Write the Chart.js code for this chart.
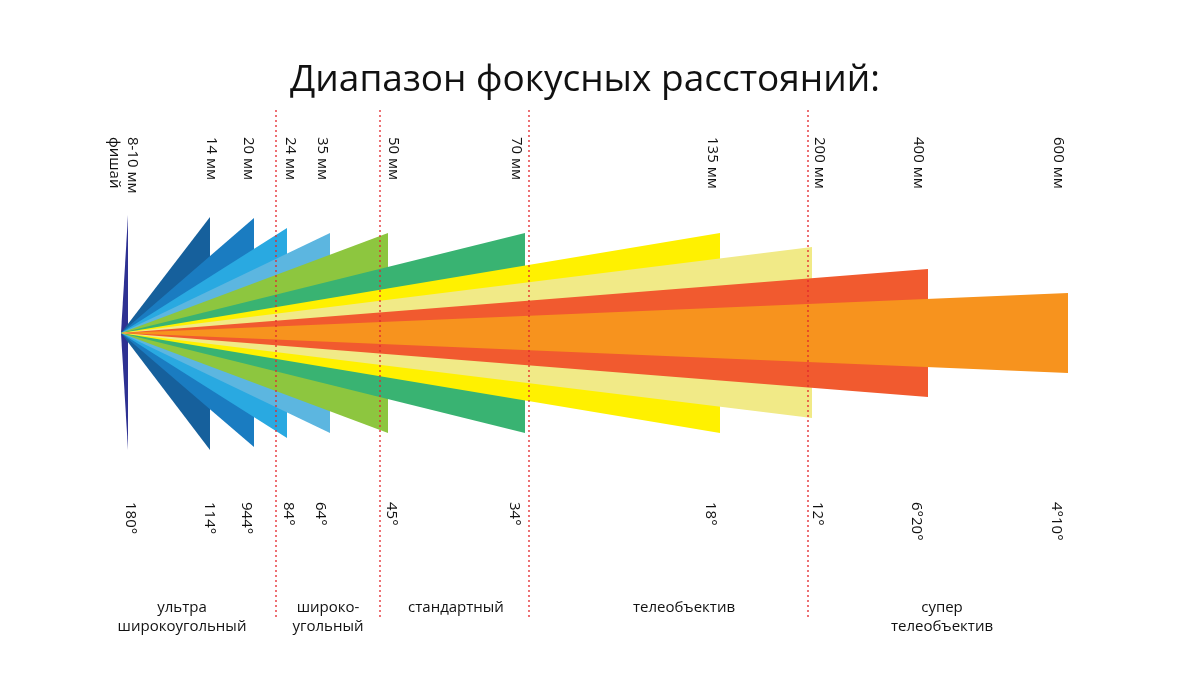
<!DOCTYPE html>
<html>
<head>
<meta charset="utf-8">
<script src="https://cdn.jsdelivr.net/npm/chart.js@4"></script>
<style>
  html, body { margin: 0; padding: 0; background: #fff; }
  #wrap { width: 1200px; height: 676px; }
</style>
</head>
<body>
<div id="wrap"><canvas id="c"></canvas></div>
<script>
// Фокусные расстояния и клинья (угол обзора)
const focalLabels = ['8-10 мм', '14 мм', '20 мм', '24 мм', '35 мм', '50 мм', '70 мм', '135 мм', '200 мм', '400 мм', '600 мм'];
const angleLabels = ['180°', '114°', '944°', '84°', '64°', '45°', '34°', '18°', '12°', '6°20°', '4°10°'];
const wedgeEnd    = [128, 210, 254, 287, 330, 388, 525, 720, 812, 928, 1068];
const wedgeTop    = [215, 217, 218, 228, 233, 233, 233, 233, 247, 269, 293];
const wedgeBottom = [450, 450, 447, 438, 433, 433, 433, 433, 418, 397, 373];
const labelX      = [132, 211, 248, 290, 322, 393, 516, 712, 819, 918, 1058];
const colors      = ['#2e3192', '#16609c', '#1a7cc1', '#29a9e1', '#5cb6e0', '#8dc63f', '#39b372', '#fff100', '#f1ea87', '#f15a2f', '#f7931e'];

const bandLines = [276, 380, 529, 808];
const bandNames = [['ультра', 'широкоугольный'], ['широко-', 'угольный'], ['стандартный'], ['телеобъектив'], ['супер', 'телеобъектив']];
const bandX     = [182, 328, 456, 684, 942];

const apex = { x: 121, y: 333 };

// Chart.js рисует первый датасет поверх остальных: начинаем с самого узкого клина
const datasets = [];
for (let i = focalLabels.length - 1; i >= 0; i--) {
  const top = [{ x: apex.x, y: apex.y }, { x: wedgeEnd[i], y: wedgeTop[i] }];
  const bot = [{ x: apex.x, y: apex.y }, { x: wedgeEnd[i], y: wedgeBottom[i] }];
  datasets.push({ data: top, borderWidth: 0, pointRadius: 0, backgroundColor: colors[i], fill: '+1', tension: 0 });
  datasets.push({ data: bot, borderWidth: 0, pointRadius: 0, backgroundColor: colors[i], fill: false, tension: 0 });
}

const textPlugin = {
  id: 'texts',
  afterDatasetsDraw(chart) {
    const { ctx, scales: { x, y } } = chart;
    ctx.save();
    // красные пунктирные границы
    ctx.strokeStyle = '#e3262b';
    ctx.lineWidth = 1.3;
    ctx.setLineDash([2, 3]);
    bandLines.forEach((bx) => {
      ctx.beginPath();
      ctx.moveTo(x.getPixelForValue(bx), y.getPixelForValue(110));
      ctx.lineTo(x.getPixelForValue(bx), y.getPixelForValue(617));
      ctx.stroke();
    });
    ctx.setLineDash([]);

    ctx.fillStyle = '#111';
    ctx.font = '37px "Open Sans", sans-serif';
    ctx.textAlign = 'center';
    ctx.textBaseline = 'middle';
    ctx.fillText('Диапазон фокусных расстояний:', 585, 80);

    ctx.font = '15px "Open Sans", sans-serif';
    const vtext = (txt, px, py) => {
      ctx.save();
      ctx.translate(px, py);
      ctx.rotate(Math.PI / 2);
      ctx.textAlign = 'left';
      ctx.textBaseline = 'middle';
      ctx.fillText(txt, 0, 0);
      ctx.restore();
    };
    focalLabels.forEach((l, i) => vtext(l, labelX[i], 137));
    vtext('фишай', 114, 137);
    angleLabels.forEach((l, i) => vtext(l, labelX[i] - 2, 502));

    ctx.textAlign = 'center';
    bandNames.forEach((lines, i) => {
      lines.forEach((t, j) => ctx.fillText(t, bandX[i], 608 + j * 19));
    });
    ctx.restore();
  },
};

new Chart(document.getElementById('c'), {
  type: 'line',
  data: { datasets },
  options: {
    responsive: true,
    maintainAspectRatio: false,
    animation: false,
    layout: { padding: 0 },
    plugins: { legend: { display: false }, tooltip: { enabled: false } },
    scales: {
      x: { type: 'linear', min: 0, max: 1200, display: false },
      y: { type: 'linear', min: 0, max: 676, reverse: true, display: false },
    },
  },
  plugins: [textPlugin],
});
</script>
</body>
</html>
